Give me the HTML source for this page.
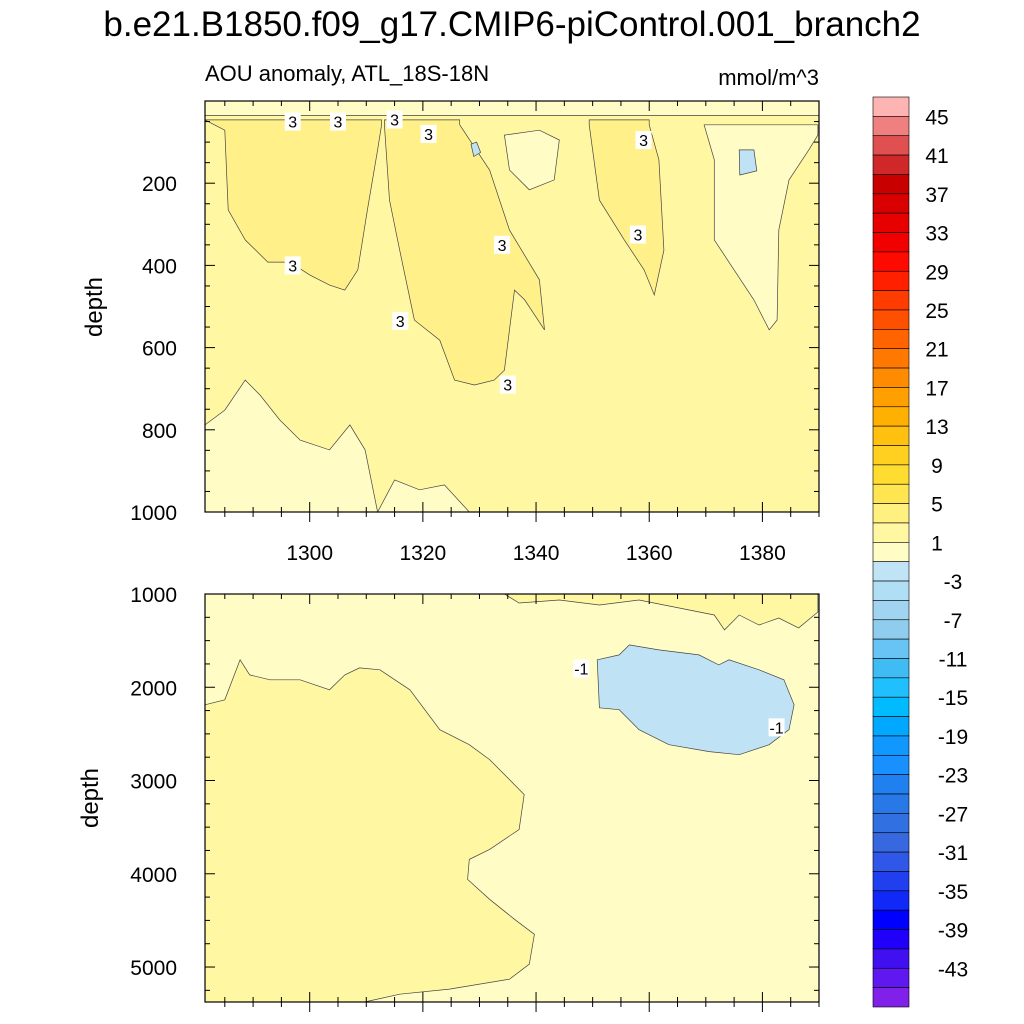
<!DOCTYPE html>
<html><head><meta charset="utf-8"><style>
html,body{margin:0;padding:0;background:#fff;}
svg{display:block;font-family:"Liberation Sans",sans-serif;}
</style></head><body>
<svg id="c" width="1024" height="1024" viewBox="0 0 1024 1024" xmlns="http://www.w3.org/2000/svg">
<text x="512" y="36" font-size="35" text-anchor="middle">b.e21.B1850.f09_g17.CMIP6-piControl.001_branch2</text>
<text x="205" y="81" font-size="22">AOU anomaly, ATL_18S-18N</text>
<text x="819" y="85" font-size="22" text-anchor="end">mmol/m^3</text>
<g id="topPanel"></g>
<g id="botPanel"></g>
<g id="cb"></g>
<text transform="translate(102,307) rotate(-90)" font-size="24" text-anchor="middle">depth</text>
<text transform="translate(98,798) rotate(-90)" font-size="24" text-anchor="middle">depth</text>
</svg>
<script>
const C_LIGHT="#fffcc6", C_MID="#fff7a2", C_DARK="#fff08a", C_BLUE="#bfe3f5";
const xTicks=[1300,1320,1340,1360,1380];
const topYTicks=[200,400,600,800,1000];
const botYTicks=[1000,2000,3000,4000,5000];
const topDarkLeft=[[1281.5,46],[1285,71],[1285.6,265],[1288.6,338],[1292.6,392],[1296.5,392],[1300,423],[1303.5,448],[1306.2,460],[1308.5,411],[1310.2,265],[1312,119],[1312.7,58],[1312.7,46]];
const topDarkMid=[[1313.2,46],[1313.2,58],[1314.1,241],[1315.9,363],[1318.5,533],[1323,582],[1325.6,679],[1329.1,691],[1332.6,679],[1334.4,655],[1336.2,460],[1338,484],[1341.5,557],[1340.6,435],[1335.3,314],[1331.8,168],[1326.5,58],[1326.5,46]];
const topDarkRight=[[1349.4,46],[1349.4,58],[1351.2,241],[1355.6,338],[1359.1,411],[1360.9,472],[1362.6,363],[1361.7,143],[1360,58],[1360,46]];
const topLightRight=[[1369.7,58],[1371.5,143],[1371.5,338],[1375,411],[1378.5,484],[1381.2,557],[1382.6,533],[1382.9,314],[1384.7,192],[1388.2,119],[1389.8,83],[1389.8,58]];
const topLightMid=[[1334.4,83],[1340.6,71],[1344.1,95],[1343.2,192],[1338.8,216],[1335.3,168]];
const topLightBottom=[[1281.5,788],[1285,752],[1288.6,679],[1291.2,715],[1294.7,776],[1298.3,825],[1303.5,849],[1307.1,788],[1309.8,849],[1312,1000],[1315,922],[1319.4,946],[1323.8,934],[1328.2,1000],[1281.5,1000]];
const topBlue1=[[1375.9,119],[1378.5,119],[1379,170],[1376,180]];
const topBlue2=[[1328.5,105],[1329.5,100],[1330.2,125],[1329,135]];
const botDarkLeft=[[1281.5,2188],[1285,2134],[1287.7,1706],[1289.4,1867],[1293,1920],[1298.3,1920],[1303.5,2027],[1306.2,1867],[1308.8,1792],[1312.4,1813],[1317.7,2027],[1323,2455],[1328.2,2616],[1331.8,2776],[1335.3,2990],[1337.9,3151],[1337,3525],[1331.8,3739],[1328.2,3846],[1327.9,4060],[1331.8,4274],[1336.2,4488],[1339.7,4649],[1338.8,4970],[1335.3,5130],[1324.7,5237],[1315.9,5291],[1309.7,5375],[1281.5,5375]];
const botDarkTop=[[1334.4,1000],[1337,1096],[1344.1,1064],[1351.2,1118],[1358.2,1064],[1365.3,1150],[1371.5,1225],[1373.3,1385],[1375.9,1225],[1379.4,1332],[1382.9,1257],[1386.4,1364],[1389.8,1193],[1389.8,1000]];
const botBlue=[[1350.8,1706],[1354.7,1653],[1356.5,1546],[1361.7,1599],[1368.8,1653],[1372.3,1760],[1374.1,1706],[1379.4,1813],[1383.8,1920],[1385.6,2188],[1384.7,2455],[1381.2,2616],[1375.9,2723],[1370.6,2690],[1363.5,2616],[1358.2,2455],[1354.7,2241],[1351.2,2220]];
const topLabels=[[1297,50],[1305,50],[1315,45],[1321,80],[1359,95],[1297,400],[1316,535],[1334,350],[1358,325],[1335,690]];
const botLabels=[[1348,1800],[1382.5,2430]];
const cbColors=["#ffb4b4","#f08080","#e05050","#d02828","#c80000","#d80000","#e60000","#f20000","#ff0a00","#ff2000","#ff3c00","#ff5000","#ff6400","#ff7800","#ff8c00","#ffa000","#ffb000","#ffc010","#ffd020","#ffdc30","#ffe650","#fff080","#fff7a2","#fffcc6","#c0e4f6","#b0def4","#a0d4f0","#90ccee","#68c4f4","#40bcf4","#20c0ff","#00bcff","#00a8ff","#1098ff","#1890ff","#2080f0","#2878e8","#3070e0","#3868e0","#3058e8","#2040f0","#1028f8","#0000ff","#2000f8","#4010f0","#6018f0","#8020e8"];
const cbLabels=[45,41,37,33,29,25,21,17,13,9,5,1,-3,-7,-11,-15,-19,-23,-27,-31,-35,-39,-43];

const NS="http://www.w3.org/2000/svg";
const X0=205,X1=819,YR0=1281.5,YR1=1390;
const xs=y=>X0+(y-YR0)/(YR1-YR0)*(X1-X0);
const tT=101,tB=512, bT=594,bB=1002;
const ysTop=d=>tT+d/1000*(tB-tT);
const ysBot=d=>bT+(d-1000)/(5375-1000)*(bB-bT);
function mk(tag,attrs,parent){const e=document.createElementNS(NS,tag);for(const k in attrs)e.setAttribute(k,attrs[k]);parent.appendChild(e);return e;}
function poly(parent,pts,ys,fill,name){
  const e=mk('polygon',{points:pts.map(p=>xs(p[0]).toFixed(1)+','+ys(p[1]).toFixed(1)).join(' '),fill:fill,stroke:'#444','stroke-width':0.7},parent);
  
  
}
function addLabel(parent,x,y,t,name){
  const r=mk('rect',{x:x-8,y:y-9,width:16,height:18,fill:'#fff'},parent);
  
  
  const e=mk('text',{x:x,y:y+6,'font-size':16,'text-anchor':'middle'},parent);
  e.textContent=t;
  
  
}
function drawFrame(parent,top0,bot0,ys,yTicks,minorStep,ymin,ymax,showX){
  const bg=mk('rect',{x:X0,y:top0,width:X1-X0,height:bot0-top0,fill:'none',stroke:'#000','stroke-width':1.2},parent);
  
  
  for(let yr=1285;yr<=1390;yr+=5){
    const maj=xTicks.includes(yr);const L=maj?10:5;const x=xs(yr);
    const t1=mk('line',{x1:x,x2:x,y1:bot0,y2:bot0-L,stroke:'#000'},parent);
    
    
    const t2=mk('line',{x1:x,x2:x,y1:top0,y2:top0+L,stroke:'#000'},parent);
    
    
    const t3=mk('line',{x1:x,x2:x,y1:bot0,y2:bot0+L,stroke:'#000'},parent);
    
    
  }
  if(showX) xTicks.forEach(v=>{const e=mk('text',{x:xs(v),y:bot0+48,'font-size':21,'text-anchor':'middle'},parent);e.textContent=v;
    
    });
  for(let d=ymin;d<=ymax;d+=minorStep){
    const maj=yTicks.includes(d);const L=maj?10:5;const y=ys(d);
    const a=mk('line',{x1:X0,x2:X0+L,y1:y,y2:y,stroke:'#000'},parent);
    
    
    const b=mk('line',{x1:X1,x2:X1-L,y1:y,y2:y,stroke:'#000'},parent);
    
    
  }
  yTicks.forEach(v=>{const e=mk('text',{x:X0-28,y:ys(v)+8,'font-size':21,'text-anchor':'end'},parent);e.textContent=v;
    
    });
}
const topG=document.getElementById('topPanel');
const tb=mk('rect',{x:X0,y:tT,width:X1-X0,height:tB-tT,fill:C_MID},topG);


poly(topG,[[YR0,0],[YR1,0],[YR1,35],[YR0,35]],ysTop,C_LIGHT,'surface-band');
poly(topG,topDarkLeft,ysTop,C_DARK,'contour-region-left');
poly(topG,topDarkMid,ysTop,C_DARK,'contour-region-mid');
poly(topG,topDarkRight,ysTop,C_DARK,'contour-region-right');
poly(topG,topLightRight,ysTop,C_LIGHT,'light-region-right');
poly(topG,topLightMid,ysTop,C_LIGHT,'light-region-mid');
poly(topG,topLightBottom,ysTop,C_LIGHT,'light-region-bottom');
poly(topG,topBlue1,ysTop,C_BLUE,'negative-region-1');
poly(topG,topBlue2,ysTop,C_BLUE,'negative-region-2');
topLabels.forEach(p=>addLabel(topG,xs(p[0]),ysTop(p[1]),'3','contour-label'));
drawFrame(topG,tT,tB,ysTop,topYTicks,50,0,1000,true);
const botG=document.getElementById('botPanel');
const bb=mk('rect',{x:X0,y:bT,width:X1-X0,height:bB-bT,fill:C_LIGHT},botG);


poly(botG,botDarkLeft,ysBot,C_MID,'contour-region-left');
poly(botG,botDarkTop,ysBot,C_MID,'contour-region-top');
poly(botG,botBlue,ysBot,C_BLUE,'negative-region');
botLabels.forEach(p=>addLabel(botG,xs(p[0]),ysBot(p[1]),'-1','contour-label'));
drawFrame(botG,bT,bB,ysBot,botYTicks,250,1000,5250,false);
const cb=document.getElementById('cb');
const cbTop=97,cbBot=1007,bh=(cbBot-cbTop)/cbColors.length;
cbColors.forEach((c,i)=>{const r=mk('rect',{x:873,y:cbTop+i*bh,width:36,height:bh,fill:c,stroke:'#000','stroke-width':0.6},cb);
  
  });
cbLabels.forEach((v,i)=>{const e=mk('text',{x:v<0?953:937,y:cbTop+(1+2*i)*bh+8,'font-size':21,'text-anchor':'middle'},cb);e.textContent=v;
  
  });
</script>
</body></html>
